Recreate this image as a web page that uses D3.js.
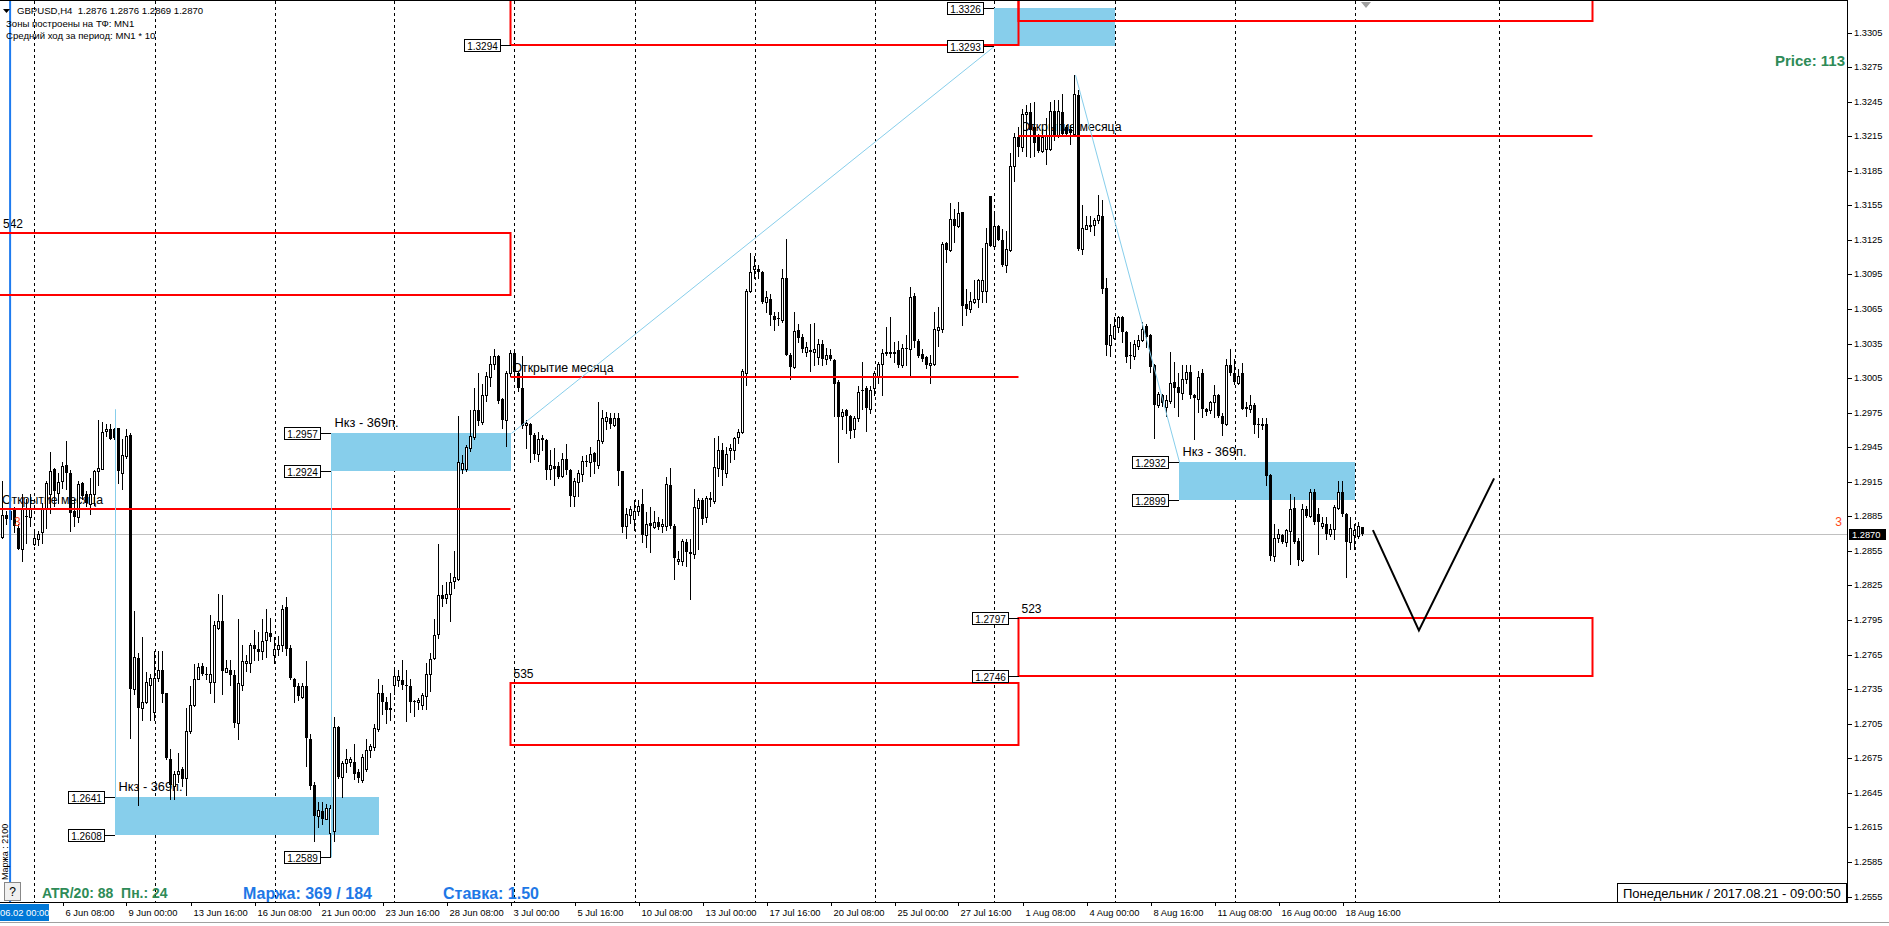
<!DOCTYPE html>
<html><head><meta charset="utf-8">
<script src="https://cdn.jsdelivr.net/npm/d3@7/dist/d3.min.js"></script>
<style>
html,body{margin:0;padding:0;background:#fff;overflow:hidden;}
svg{display:block;}
text{font-family:"Liberation Sans",Arial,sans-serif;white-space:pre;}
</style></head><body>
<svg id="chart" width="1889" height="926"></svg>
<script>
// ---------- OHLC series (H4 bars, index 0..340) ----------
const opens=[1.2867,1.2886,1.2883,1.2891,1.2875,1.2857,1.2885,1.2884,1.2861,1.2865,
1.2871,1.2891,1.2904,1.2926,1.2905,1.2916,1.2930,1.2923,1.2890,1.2884,
1.2914,1.2904,1.2896,1.2904,1.2924,1.2926,1.2959,1.2961,1.2961,1.2962,
1.2923,1.2937,1.2956,1.2735,1.2762,1.2719,1.2724,1.2739,1.2715,1.2745,
1.2752,1.2732,1.2674,1.2651,1.2661,1.2666,1.2658,1.2699,1.2721,1.2744,
1.2755,1.2748,1.2741,1.2741,1.2788,1.2794,1.2750,1.2752,1.2747,1.2706,
1.2739,1.2758,1.2758,1.2773,1.2770,1.2768,1.2778,1.2784,1.2765,1.2770,
1.2773,1.2806,1.2771,1.2744,1.2738,1.2728,1.2738,1.2692,1.2652,1.2625,
1.2629,1.2622,1.2610,1.2612,1.2702,1.2659,1.2671,1.2672,1.2672,1.2663,
1.2656,1.2666,1.2682,1.2685,1.2700,1.2732,1.2724,1.2718,1.2739,1.2743,
1.2743,1.2739,1.2738,1.2725,1.2724,1.2721,1.2729,1.2748,1.2762,1.2783,
1.2817,1.2814,1.2818,1.2829,1.2831,1.2926,1.2926,1.2944,1.2954,1.2977,
1.2967,1.2990,1.3006,1.3017,1.3024,1.2987,1.2969,1.3009,1.3027,1.3009,
1.2996,1.2964,1.2965,1.2956,1.2939,1.2953,1.2951,1.2926,1.2929,1.2929,
1.2920,1.2935,1.2925,1.2903,1.2915,1.2922,1.2933,1.2932,1.2940,1.2930,
1.2950,1.2968,1.2970,1.2964,1.2970,1.2924,1.2877,1.2886,1.2883,1.2890,
1.2896,1.2869,1.2879,1.2876,1.2880,1.2877,1.2877,1.2912,1.2877,1.2846,
1.2846,1.2863,1.2854,1.2852,1.2892,1.2899,1.2884,1.2901,1.2898,1.2927,
1.2943,1.2923,1.2943,1.2943,1.2954,1.2958,1.3009,1.3081,1.3100,1.3100,
1.3097,1.3071,1.3074,1.3059,1.3057,1.3055,1.3092,1.3025,1.3015,1.3047,
1.3041,1.3028,1.3029,1.3028,1.3023,1.3035,1.3022,1.3025,1.3021,1.3002,
1.2972,1.2977,1.2972,1.2961,1.2970,1.2995,1.2996,1.2978,1.2996,1.3007,
1.3017,1.3027,1.3028,1.3027,1.3029,1.3016,1.3031,1.3030,1.3076,1.3037,
1.3026,1.3023,1.3016,1.3017,1.3047,1.3048,1.3122,1.3116,1.3143,1.3137,
1.3149,1.3069,1.3065,1.3071,1.3074,1.3081,1.3081,1.3163,1.3120,1.3137,
1.3125,1.3103,1.3116,1.3189,1.3214,1.3206,1.3234,1.3236,1.3223,1.3214,
1.3202,1.3204,1.3204,1.3237,1.3215,1.3236,1.3223,1.3221,1.3217,1.3251,
1.3117,1.3134,1.3137,1.3138,1.3142,1.3146,1.3083,1.3034,1.3040,1.3049,
1.3058,1.3045,1.3025,1.3024,1.3033,1.3038,1.3050,1.3042,1.3016,1.2982,
1.2990,1.2980,1.2985,1.3002,1.2997,1.2992,1.3004,1.3010,1.2990,1.2987,
1.3009,1.2978,1.2977,1.2984,1.2990,1.2972,1.2965,1.3016,1.3009,1.3001,
1.3009,1.2980,1.2978,1.2982,1.2965,1.2964,1.2965,1.2921,1.2851,1.2866,
1.2869,1.2863,1.2872,1.2892,1.2864,1.2847,1.2891,1.2885,1.2906,1.2887,
1.2877,1.2878,1.2870,1.2874,1.2892,1.2906,1.2887,1.2863,1.2869,1.2868,1.2876];
const highs=[1.2916,1.2890,1.2893,1.2893,1.2878,1.2904,1.2900,1.2904,1.2872,1.2872,
1.2897,1.2916,1.2941,1.2927,1.2923,1.2932,1.2950,1.2925,1.2900,1.2916,
1.2915,1.2907,1.2918,1.2925,1.2969,1.2967,1.2965,1.2965,1.2962,1.2962,
1.2952,1.2961,1.2957,1.2803,1.2766,1.2780,1.2750,1.2748,1.2768,1.2768,
1.2768,1.2732,1.2683,1.2664,1.2680,1.2667,1.2719,1.2738,1.2757,1.2758,
1.2758,1.2754,1.2799,1.2794,1.2818,1.2817,1.2760,1.2760,1.2752,1.2796,
1.2773,1.2765,1.2775,1.2786,1.2785,1.2796,1.2805,1.2797,1.2780,1.2781,
1.2808,1.2815,1.2773,1.2745,1.2740,1.2740,1.2759,1.2696,1.2654,1.2637,
1.2637,1.2635,1.2634,1.2711,1.2703,1.2673,1.2683,1.2676,1.2687,1.2666,
1.2679,1.2692,1.2687,1.2705,1.2744,1.2739,1.2728,1.2732,1.2754,1.2752,
1.2760,1.2752,1.2744,1.2726,1.2727,1.2732,1.2758,1.2766,1.2796,1.2861,
1.2825,1.2828,1.2836,1.2855,1.2972,1.2938,1.2947,1.2977,1.2996,1.3009,
1.3000,1.3010,1.3024,1.3030,1.3025,1.2988,1.3011,1.3029,1.3030,1.3010,
1.3024,1.2969,1.2966,1.2957,1.2958,1.2956,1.2952,1.2943,1.2944,1.2932,
1.2940,1.2948,1.2926,1.2918,1.2925,1.2937,1.2938,1.2945,1.2941,1.2984,
1.2977,1.2976,1.2975,1.2975,1.2975,1.2924,1.2892,1.2894,1.2899,1.2899,
1.2909,1.2889,1.2893,1.2890,1.2884,1.2883,1.2919,1.2927,1.2878,1.2855,
1.2865,1.2865,1.2865,1.2909,1.2901,1.2901,1.2903,1.2906,1.2953,1.2955,
1.2949,1.2945,1.2948,1.2954,1.2961,1.3013,1.3082,1.3114,1.3111,1.3103,
1.3098,1.3081,1.3078,1.3062,1.3062,1.3100,1.3126,1.3027,1.3062,1.3052,
1.3043,1.3036,1.3052,1.3053,1.3039,1.3038,1.3031,1.3030,1.3022,1.3003,
1.2978,1.2978,1.2973,1.2972,1.2998,1.3019,1.2998,1.2998,1.3011,1.3019,
1.3030,1.3049,1.3058,1.3036,1.3037,1.3035,1.3042,1.3084,1.3079,1.3039,
1.3030,1.3024,1.3025,1.3062,1.3067,1.3123,1.3123,1.3157,1.3152,1.3158,
1.3149,1.3082,1.3080,1.3090,1.3091,1.3118,1.3135,1.3163,1.3150,1.3138,
1.3134,1.3133,1.3200,1.3218,1.3223,1.3239,1.3242,1.3244,1.3245,1.3217,
1.3221,1.3231,1.3245,1.3246,1.3246,1.3252,1.3225,1.3225,1.3268,1.3255,
1.3155,1.3146,1.3146,1.3144,1.3164,1.3160,1.3092,1.3052,1.3058,1.3059,
1.3059,1.3046,1.3036,1.3038,1.3042,1.3054,1.3052,1.3043,1.3017,1.2993,
1.2991,1.2990,1.3028,1.3019,1.3009,1.3016,1.3016,1.3016,1.2991,1.3011,
1.3013,1.2979,1.2985,1.2999,1.2991,1.2975,1.3022,1.3030,1.3022,1.3013,
1.3018,1.2984,1.2990,1.2983,1.2970,1.2970,1.2970,1.2922,1.2878,1.2874,
1.2870,1.2874,1.2904,1.2902,1.2866,1.2896,1.2894,1.2909,1.2909,1.2892,
1.2884,1.2884,1.2878,1.2895,1.2916,1.2916,1.2888,1.2884,1.2878,1.2880,1.2876];
const lows=[1.2866,1.2878,1.2876,1.2871,1.2857,1.2846,1.2862,1.2877,1.2860,1.2860,
1.2862,1.2875,1.2888,1.2894,1.2897,1.2910,1.2909,1.2872,1.2877,1.2880,
1.2900,1.2894,1.2887,1.2895,1.2912,1.2926,1.2955,1.2952,1.2952,1.2914,
1.2909,1.2936,1.2693,1.2731,1.2634,1.2708,1.2723,1.2708,1.2708,1.2742,
1.2724,1.2674,1.2640,1.2640,1.2654,1.2651,1.2643,1.2697,1.2720,1.2744,
1.2747,1.2744,1.2732,1.2724,1.2787,1.2731,1.2750,1.2739,1.2702,1.2692,
1.2734,1.2751,1.2750,1.2760,1.2760,1.2761,1.2763,1.2777,1.2758,1.2765,
1.2768,1.2765,1.2744,1.2724,1.2726,1.2727,1.2668,1.2648,1.2603,1.2615,
1.2618,1.2622,1.2589,1.2603,1.2658,1.2641,1.2663,1.2668,1.2657,1.2654,
1.2654,1.2664,1.2676,1.2682,1.2699,1.2713,1.2706,1.2708,1.2731,1.2738,
1.2735,1.2707,1.2715,1.2712,1.2718,1.2718,1.2718,1.2733,1.2761,1.2779,
1.2807,1.2810,1.2794,1.2823,1.2830,1.2923,1.2924,1.2942,1.2952,1.2964,
1.2965,1.2985,1.2998,1.3013,1.2983,1.2962,1.2946,1.3007,1.3005,1.2994,
1.2962,1.2944,1.2932,1.2935,1.2933,1.2943,1.2917,1.2917,1.2912,1.2918,
1.2919,1.2922,1.2894,1.2894,1.2903,1.2916,1.2929,1.2920,1.2923,1.2927,
1.2949,1.2961,1.2962,1.2963,1.2912,1.2871,1.2866,1.2879,1.2873,1.2886,
1.2863,1.2858,1.2854,1.2875,1.2874,1.2871,1.2873,1.2875,1.2831,1.2844,
1.2843,1.2842,1.2813,1.2849,1.2857,1.2878,1.2880,1.2894,1.2897,1.2920,
1.2912,1.2919,1.2932,1.2935,1.2949,1.2957,1.2999,1.3080,1.3092,1.3092,
1.3070,1.3062,1.3051,1.3047,1.3051,1.3054,1.3025,1.3004,1.3014,1.3036,
1.3028,1.3024,1.3011,1.3016,1.3017,1.3016,1.3017,1.3021,1.2972,1.2932,
1.2961,1.2957,1.2953,1.2954,1.2968,1.2978,1.2959,1.2975,1.2990,1.3001,
1.2990,1.3025,1.3023,1.3019,1.3015,1.3015,1.3016,1.3008,1.3032,1.3023,
1.3020,1.3014,1.3001,1.3016,1.3033,1.3045,1.3106,1.3115,1.3123,1.3136,
1.3051,1.3060,1.3062,1.3070,1.3067,1.3071,1.3071,1.3120,1.3119,1.3125,
1.3102,1.3097,1.3115,1.3176,1.3198,1.3202,1.3198,1.3197,1.3198,1.3201,
1.3201,1.3191,1.3203,1.3212,1.3214,1.3216,1.3215,1.3208,1.3216,1.3116,
1.3113,1.3134,1.3133,1.3129,1.3140,1.3079,1.3025,1.3024,1.3039,1.3045,
1.3036,1.3019,1.3014,1.3022,1.3030,1.3037,1.3032,1.3010,1.2953,1.2980,
1.2981,1.2972,1.2983,1.2980,1.2972,1.2987,1.3001,1.2988,1.2952,1.2976,
1.2971,1.2973,1.2975,1.2971,1.2971,1.2956,1.2964,1.3008,1.3000,1.3000,
1.2978,1.2972,1.2976,1.2957,1.2954,1.2961,1.2912,1.2847,1.2846,1.2863,
1.2862,1.2859,1.2844,1.2862,1.2843,1.2846,1.2884,1.2884,1.2878,1.2852,
1.2875,1.2865,1.2868,1.2865,1.2891,1.2885,1.2832,1.2857,1.2857,1.2866,1.2869];
const closes=[1.2886,1.2883,1.2890,1.2877,1.2857,1.2891,1.2884,1.2891,1.2866,1.2870,
1.2891,1.2914,1.2924,1.2907,1.2915,1.2929,1.2923,1.2888,1.2884,1.2913,
1.2903,1.2897,1.2904,1.2924,1.2927,1.2958,1.2961,1.2952,1.2953,1.2924,
1.2938,1.2955,1.2735,1.2763,1.2719,1.2724,1.2741,1.2745,1.2745,1.2752,
1.2731,1.2675,1.2652,1.2661,1.2664,1.2657,1.2699,1.2721,1.2744,1.2754,
1.2748,1.2747,1.2748,1.2791,1.2794,1.2751,1.2753,1.2747,1.2706,1.2740,
1.2759,1.2759,1.2773,1.2770,1.2767,1.2777,1.2785,1.2780,1.2770,1.2773,
1.2805,1.2770,1.2745,1.2737,1.2729,1.2738,1.2693,1.2651,1.2625,1.2630,
1.2622,1.2632,1.2632,1.2702,1.2659,1.2671,1.2674,1.2674,1.2661,1.2658,
1.2676,1.2682,1.2686,1.2701,1.2732,1.2724,1.2717,1.2719,1.2746,1.2746,
1.2739,1.2738,1.2724,1.2724,1.2726,1.2730,1.2748,1.2761,1.2782,1.2817,
1.2813,1.2818,1.2828,1.2832,1.2932,1.2931,1.2945,1.2955,1.2977,1.2968,
1.2990,1.3007,1.3017,1.3024,1.2985,1.2969,1.3009,1.3027,1.3010,1.2996,
1.2963,1.2966,1.2956,1.2939,1.2952,1.2951,1.2925,1.2930,1.2926,1.2919,
1.2935,1.2925,1.2903,1.2916,1.2923,1.2933,1.2932,1.2939,1.2932,1.2951,
1.2970,1.2971,1.2965,1.2970,1.2924,1.2876,1.2887,1.2891,1.2890,1.2894,
1.2869,1.2878,1.2877,1.2880,1.2876,1.2878,1.2913,1.2877,1.2849,1.2848,
1.2864,1.2854,1.2852,1.2893,1.2899,1.2883,1.2901,1.2899,1.2928,1.2943,
1.2925,1.2939,1.2944,1.2953,1.2958,1.3011,1.3081,1.3097,1.3102,1.3097,
1.3071,1.3075,1.3060,1.3055,1.3056,1.3092,1.3025,1.3015,1.3046,1.3040,
1.3030,1.3032,1.3028,1.3030,1.3035,1.3022,1.3025,1.3022,1.3000,1.2971,
1.2976,1.2972,1.2959,1.2970,1.2993,1.2994,1.2979,1.2995,1.3009,1.3017,
1.3027,1.3028,1.3026,1.3028,1.3016,1.3031,1.3030,1.3075,1.3037,1.3024,
1.3022,1.3016,1.3018,1.3048,1.3049,1.3121,1.3116,1.3143,1.3137,1.3148,
1.3068,1.3065,1.3072,1.3074,1.3090,1.3090,1.3122,1.3120,1.3137,1.3125,
1.3103,1.3117,1.3189,1.3214,1.3206,1.3234,1.3236,1.3220,1.3209,1.3202,
1.3214,1.3215,1.3237,1.3214,1.3237,1.3217,1.3217,1.3218,1.3252,1.3117,
1.3135,1.3138,1.3138,1.3142,1.3147,1.3082,1.3034,1.3042,1.3050,1.3058,
1.3045,1.3023,1.3024,1.3035,1.3038,1.3048,1.3041,1.3015,1.2982,1.2991,
1.2983,1.2986,1.3001,1.2996,1.2992,1.3004,1.3010,1.2990,1.2988,1.3006,
1.2978,1.2976,1.2984,1.2990,1.2972,1.2965,1.3016,1.3009,1.3002,1.3007,
1.2978,1.2978,1.2982,1.2964,1.2964,1.2965,1.2920,1.2851,1.2866,1.2870,
1.2863,1.2873,1.2891,1.2863,1.2847,1.2891,1.2885,1.2906,1.2880,1.2880,
1.2879,1.2870,1.2874,1.2893,1.2906,1.2887,1.2863,1.2875,1.2873,1.2877,1.2870];

// ---------- axes data ----------
const timeIdx=[15,31,47,63,79,95,111,127,143,159,175,191,207,223,239,255,271,287,303,319,335];
const timeLabels=["6 Jun 08:00","9 Jun 00:00","13 Jun 16:00","16 Jun 08:00","21 Jun 00:00","23 Jun 16:00","28 Jun 08:00","3 Jul 00:00","5 Jul 16:00","10 Jul 08:00","13 Jul 00:00","17 Jul 16:00","20 Jul 08:00","25 Jul 00:00","27 Jul 16:00","1 Aug 08:00","4 Aug 00:00","8 Aug 16:00","11 Aug 08:00","16 Aug 00:00","18 Aug 16:00"];
const gridIdx=[8,38,68,98,128,158,188,218,248,278,308,338,374];
const priceTicks=[1.3305,1.3275,1.3245,1.3215,1.3185,1.3155,1.3125,1.3095,1.3065,1.3035,1.3005,1.2975,1.2945,1.2915,1.2885,1.2855,1.2825,1.2795,1.2765,1.2735,1.2705,1.2675,1.2645,1.2615,1.2585,1.2555];
const bidPrice=1.2870;

// ---------- annotations ----------
const monthOpenLines=[{s:-1,e:127,p:1.2891},{s:127,e:254,p:1.3006},{s:254,e:397.5,p:1.3215}];
const monthOpenText="Открытие месяца";
const redZones=[{s:-1,e:127,top:1.3131,bot:1.3077,label:"542"},{s:127,e:254,top:1.2740,bot:1.26865,label:"535"},{s:254,e:397.5,top:1.2797,bot:1.2746,label:"523"},{s:127,e:254,top:1.3350,bot:1.3294,label:""},{s:254,e:397.5,top:1.3370,bot:1.3315,label:""}];
const blueZones=[{s:28,e:94,top:1.2641,bot:1.2608,label:"Нкз - 369п."},{s:82,e:127,top:1.2957,bot:1.2924,label:"Нкз - 369п."},{s:248,e:278,top:1.3326,bot:1.3293,label:""},{s:294,e:338,top:1.2932,bot:1.2899,label:"Нкз - 369п."}];
const connectors=[{k1:28,p1:1.2978,k2:28,p2:1.2641},{k1:82,p1:1.2924,k2:82,p2:1.2589},{k1:127,p1:1.2957,k2:248,p2:1.3293},{k1:268,p1:1.3268,k2:294,p2:1.2932}];
const priceTags=[{k:28,p:1.2641},{k:28,p:1.2608},{k:82,p:1.2957},{k:82,p:1.2924},{k:82,p:1.2589},{k:127,p:1.3294},{k:248,p:1.3326},{k:248,p:1.3293},{k:254,p:1.2797},{k:254,p:1.2746},{k:294,p:1.2932},{k:294,p:1.2899}];
const zigzag=[{k:342.6,p:1.2873},{k:354.1,p:1.2786},{k:372.9,p:1.2918}];
const separatorIdx=1.9;
const headerLines=["GBPUSD,H4  1.2876 1.2876 1.2869 1.2870","Зоны построены на ТФ: MN1","Средний ход за период: MN1 * 10"];
const statusGreen="ATR/20: 88  Пн.: 24";
const statusMargin="Маржа: 369 / 184";
const statusRate="Ставка: 1.50";
const priceInfo="Price: 113";
const dateInfo="Понедельник / 2017.08.21 - 09:00:50";
const spreadText="3";
const sideText="Маржа : 2100";
const cursorTime="06.02 00:00";

// ---------- layout ----------
const PR=1847, PB=902;
const svg=d3.select("#chart");
const xs=d3.scaleLinear().domain([0,340]).range([2.5,1362.5]);
const ys=d3.scaleLinear().domain([1.2555,1.3305]).range([896.5,32.5]);
const Y=p=>Math.round(ys(p));

svg.append("rect").attr("width",1889).attr("height",926).attr("fill","#fff");
svg.append("defs").append("clipPath").attr("id","pc").append("rect").attr("x",0).attr("y",1).attr("width",PR).attr("height",PB-1);
const g=svg.append("g").attr("clip-path","url(#pc)");

// grid
g.append("g").selectAll("line").data(gridIdx).join("line")
 .attr("x1",d=>Math.round(xs(d))+0.5).attr("x2",d=>Math.round(xs(d))+0.5)
 .attr("y1",1).attr("y2",PB).attr("stroke","#000").attr("stroke-width",1).attr("stroke-dasharray","3,3");

// blue zones
g.append("g").selectAll("rect").data(blueZones).join("rect")
 .attr("x",d=>Math.round(xs(d.s))).attr("y",d=>Y(d.top))
 .attr("width",d=>Math.round(xs(d.e))-Math.round(xs(d.s))).attr("height",d=>Y(d.bot)-Y(d.top))
 .attr("fill","#87CEEB");
g.append("g").selectAll("text").data(blueZones.filter(d=>d.label)).join("text")
 .attr("x",d=>xs(d.s)+4).attr("y",d=>Y(d.top)-6).text(d=>d.label)
 .attr("font-size","12.8px").attr("fill","#000");

// month open text
g.append("g").selectAll("text").data(monthOpenLines).join("text")
 .attr("x",d=>Math.max(xs(d.s),0)+2).attr("y",d=>Y(d.p)-5).text(monthOpenText)
 .attr("font-size","12.3px").attr("fill","#000");
// zone labels
g.append("g").selectAll("text").data(redZones.filter(d=>d.label)).join("text")
 .attr("x",d=>Math.max(xs(d.s),0)+3).attr("y",d=>Y(d.top)-5).text(d=>d.label)
 .attr("font-size","12px").attr("fill","#000");

// bid line
g.append("line").attr("x1",0).attr("x2",PR).attr("y1",Y(bidPrice)+0.5).attr("y2",Y(bidPrice)+0.5)
 .attr("stroke","#C0C0C0").attr("stroke-width",1);

// candles
const bars=opens.map((o,i)=>({i,o,h:highs[i],l:lows[i],c:closes[i]}));
const cg=g.append("g");
cg.selectAll("line").data(bars).join("line")
 .attr("x1",d=>xs(d.i)).attr("x2",d=>xs(d.i))
 .attr("y1",d=>Y(d.h)).attr("y2",d=>Y(d.l)+1)
 .attr("stroke","#000").attr("stroke-width",1);
cg.selectAll("rect").data(bars).join("rect")
 .attr("x",d=>d.c>=d.o?xs(d.i)-1:xs(d.i)-1.5)
 .attr("y",d=>{const t=Y(Math.max(d.o,d.c));return d.c>=d.o?t+0.5:t;})
 .attr("width",d=>d.c>=d.o?2:3)
 .attr("height",d=>{const t=Y(Math.max(d.o,d.c)),b=Y(Math.min(d.o,d.c));return Math.max(b-t,1);})
 .attr("fill",d=>d.c>=d.o?"#fff":"#000")
 .attr("stroke",d=>d.c>=d.o?"#000":"none").attr("stroke-width",1);

// separator line
g.append("line").attr("x1",xs(separatorIdx)).attr("x2",xs(separatorIdx)).attr("y1",0).attr("y2",PB)
 .attr("stroke","#1E7BEF").attr("stroke-width",2);

// month open lines (red)
g.append("g").selectAll("line").data(monthOpenLines).join("line")
 .attr("x1",d=>xs(d.s)).attr("x2",d=>xs(d.e)).attr("y1",d=>Y(d.p)).attr("y2",d=>Y(d.p))
 .attr("stroke","#FF0000").attr("stroke-width",2);
// red zones
g.append("g").selectAll("rect").data(redZones).join("rect")
 .attr("x",d=>xs(d.s)).attr("y",d=>Y(d.top))
 .attr("width",d=>xs(d.e)-xs(d.s)).attr("height",d=>Y(d.bot)-Y(d.top))
 .attr("fill","none").attr("stroke","#FF0000").attr("stroke-width",2);

// thin connectors
g.append("g").selectAll("line").data(connectors).join("line")
 .attr("x1",d=>Math.round(xs(d.k1))+0.5).attr("x2",d=>Math.round(xs(d.k2))+0.5)
 .attr("y1",d=>ys(d.p1)).attr("y2",d=>ys(d.p2))
 .attr("stroke","#87CEEB").attr("stroke-width",1);

// zigzag
g.append("path").datum(zigzag)
 .attr("d",d3.line().x(d=>xs(d.k)).y(d=>ys(d.p)))
 .attr("fill","none").attr("stroke","#000").attr("stroke-width",2);

// price tags
const tg=g.append("g").selectAll("g").data(priceTags).join("g")
 .attr("transform",d=>`translate(${Math.round(xs(d.k))},${Y(d.p)})`);
tg.append("line").attr("x1",-10).attr("x2",0).attr("y1",0.5).attr("y2",0.5).attr("stroke","#000");
tg.append("rect").attr("x",-46.5).attr("y",-5.5).attr("width",36).attr("height",12).attr("fill","#fff").attr("stroke","#000");
tg.append("text").attr("x",-28.5).attr("y",4.5).attr("text-anchor","middle").attr("font-size","10px").text(d=>d3.format(".4f")(d.p));

// spread marks
g.append("text").attr("x",14).attr("y",526).attr("font-size","12px").attr("fill","#FF4A1C").text(spreadText);
g.append("text").attr("x",1842).attr("y",526).attr("text-anchor","end").attr("font-size","12px").attr("fill","#FF4A1C").text(spreadText);

// chart-shift marker
g.append("path").attr("d","M1361,2 L1371,2 L1366,8 Z").attr("fill","#A0A0A0");

// ---------- frame ----------
svg.append("line").attr("x1",0).attr("x2",PR).attr("y1",0.5).attr("y2",0.5).attr("stroke","#000");
svg.append("line").attr("x1",PR+0.5).attr("x2",PR+0.5).attr("y1",0).attr("y2",PB+1).attr("stroke","#000");
svg.append("line").attr("x1",0).attr("x2",PR+1).attr("y1",PB+0.5).attr("y2",PB+0.5).attr("stroke","#000");
svg.append("line").attr("x1",0).attr("x2",1889).attr("y1",922.5).attr("y2",922.5).attr("stroke","#A0A0A0");

// right axis
const yAxis=d3.axisRight(ys).tickValues(priceTicks).tickFormat(d3.format(".4f")).tickSize(4).tickPadding(2).tickSizeOuter(0);
const gy=svg.append("g").attr("transform",`translate(${PR+1},0)`).call(yAxis);
gy.select(".domain").remove();
gy.selectAll(".tick").attr("transform",d=>`translate(0,${Y(d)+0.5})`);
gy.selectAll("line").attr("stroke","#000");
gy.selectAll("text").attr("font-size","9.3px").attr("font-family","Liberation Sans, Arial, sans-serif").attr("fill","#000");
// bid price tag
svg.append("rect").attr("x",PR+2).attr("y",Y(bidPrice)-5).attr("width",37).attr("height",11).attr("fill","#000");
svg.append("text").attr("x",PR+5).attr("y",Y(bidPrice)+4).attr("font-size","9.3px").attr("fill","#fff").text(d3.format(".4f")(bidPrice));

// bottom axis
const xAxis=d3.axisBottom(xs).tickValues(timeIdx).tickFormat((d,i)=>timeLabels[i]).tickSize(3).tickSizeOuter(0);
const gx=svg.append("g").attr("transform",`translate(0,${PB+1})`).call(xAxis);
gx.select(".domain").remove();
gx.selectAll(".tick").attr("transform",d=>`translate(${Math.round(xs(d))+0.5},0)`);
gx.selectAll("line").attr("stroke","#000");
gx.selectAll("text").attr("text-anchor","start").attr("x",2).attr("y",13).attr("dy",null)
 .attr("font-size","9.4px").attr("font-family","Liberation Sans, Arial, sans-serif").attr("fill","#000");
// cursor time highlight
svg.append("rect").attr("x",0).attr("y",PB+2).attr("width",49).attr("height",17).attr("fill","#0078D7");
svg.append("text").attr("x",0).attr("y",PB+14).attr("font-size","9.4px").attr("fill","#fff").text(cursorTime);

// ---------- texts ----------
svg.append("path").attr("d","M3,9 L10,9 L6.5,13 Z").attr("fill","#000");
svg.append("g").selectAll("text").data(headerLines).join("text")
 .attr("x",(d,i)=>i===0?17:6).attr("y",(d,i)=>[14,27,39][i]).attr("font-size","9.6px").attr("fill","#000").text(d=>d);

svg.append("text").attr("x",1845).attr("y",66).attr("text-anchor","end").attr("font-size","15px").attr("font-weight","bold").attr("fill","#2E8B57").text(priceInfo);
svg.append("text").attr("x",42).attr("y",898).attr("font-size","14px").attr("font-weight","bold").attr("fill","#2E8B57").text(statusGreen);
svg.append("text").attr("x",243).attr("y",899).attr("font-size","16px").attr("font-weight","bold").attr("fill","#1E78E6").text(statusMargin);
svg.append("text").attr("x",443).attr("y",899).attr("font-size","16px").attr("font-weight","bold").attr("fill","#1E78E6").text(statusRate);

// date box
svg.append("rect").attr("x",1617.5).attr("y",883.5).attr("width",229).attr("height",19).attr("fill","#fff").attr("stroke","#000");
svg.append("text").attr("x",1623).attr("y",898).attr("font-size","13px").attr("fill","#000").text(dateInfo);

// help button & side text
svg.append("rect").attr("x",4.5).attr("y",882.5).attr("width",16).attr("height",18).attr("fill","#F0F0F0").attr("stroke","#888");
svg.append("text").attr("x",12.5).attr("y",896).attr("text-anchor","middle").attr("font-size","12px").attr("fill","#000").text("?");
svg.append("text").attr("transform","translate(8,880) rotate(-90)").attr("font-size","9px").attr("fill","#000").text(sideText);
</script>
</body></html>
